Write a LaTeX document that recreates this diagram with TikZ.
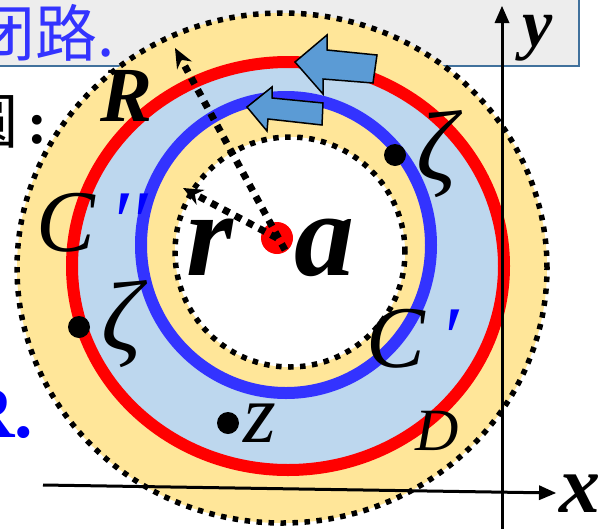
\documentclass[tikz,border=0pt]{standalone}
\usepackage{fontspec}
\setmainfont{Liberation Serif}
\newfontfamily\cjk{Noto Sans CJK SC}
\usetikzlibrary{arrows.meta}
\definecolor{ringyellow}{HTML}{FFE699}
\definecolor{ringblue}{HTML}{BDD7EE}
\definecolor{cred}{HTML}{FF0000}
\definecolor{cblue}{HTML}{3333FF}
\definecolor{arrowblue}{HTML}{5B9BD5}
\definecolor{boxgrey}{HTML}{EDEDED}
\definecolor{boxedge}{HTML}{41719C}
\definecolor{textblue}{HTML}{3333FF}
\definecolor{pureblue}{HTML}{0000FF}
\begin{document}
\begin{tikzpicture}[x=1pt,y=-1pt,
  dotring/.style={line width=5.5pt, dash pattern=on 5.5pt off 6.5pt},
  dotray/.style={line width=7pt, dash pattern=on 7pt off 6.5pt, -{Stealth[length=20pt,width=17pt,line width=0pt]}},
  blockarrow/.style={fill=arrowblue, draw=black, line width=1.5pt, line join=miter},
  pt/.style={circle, fill=black, inner sep=0pt, minimum size=22pt},
  lbl/.style={inner sep=0pt, anchor=base west},
  axisline/.style={line width=3pt, -{Triangle[length=17pt,width=15pt,line width=0pt]}}
]
\useasboundingbox (0,0) rectangle (605,528);
\clip (0,0) rectangle (605,528);

% header box
\draw[draw=boxedge, fill=boxgrey, line width=2pt] (-20,-20) rectangle (579,66);
\node[lbl, text=textblue, font=\cjk\fontsize{62}{66}\selectfont] (t1) at (-27,56) {闭路.};
\node[lbl, font=\fontsize{60}{64}\selectfont] (t2) at (-42,143) {{\cjk 圆}\hspace{9pt}\textbf{:}};
\node[lbl, text=pureblue, font=\bfseries\fontsize{74}{80}\selectfont] (t3) at (-39,437) {R.};

% rings
\fill[ringyellow] (282,268) ellipse [x radius=265pt, y radius=255pt];
\fill[ringblue] (288,266) ellipse [x radius=216pt, y radius=204pt];
\fill[ringyellow] (286,245) ellipse [x radius=145pt, y radius=148pt];
\fill[white] (290,252) circle [radius=115pt];
\draw[cred, line width=12pt] (288,266) ellipse [x radius=216pt, y radius=204pt];
\draw[cblue, line width=12pt] (286,245) ellipse [x radius=145pt, y radius=148pt];
\draw[dotring] (282,268) ellipse [x radius=265pt, y radius=255pt];
\draw[dotring] (290,252) circle [radius=115pt];

% axes
\coordinate (xs) at (43,485);
\coordinate (xe) at (556,493);
\coordinate (ys) at (502,535);
\coordinate (ye) at (502,6);
\draw[axisline] (xs) -- (xe);
\draw[axisline] (ys) -- (ye);
\node[lbl, anchor=base, font=\bfseries\itshape\fontsize{82}{90}\selectfont] (xl) at (580,512) {x};
\node[lbl, anchor=base, font=\bfseries\itshape\fontsize{68}{72}\selectfont] (yl) at (538,46) {y};

% block arrows
\draw[blockarrow] (295,62) -- (327,35) -- (327,50) -- (377,55) -- (373,83) -- (323,79) -- (323,94) -- cycle;
\draw[blockarrow] (247,107) -- (272,87) -- (272,98) -- (323,103) -- (322,125) -- (268,119) -- (267,131) -- cycle;

% centre and radii
\node[circle, fill=cred, inner sep=0pt, minimum size=32pt] (ctr) at (277,238) {};
\coordinate (Rs) at (285,250);
\coordinate (Rtip) at (175,48);
\coordinate (rtip) at (183,188);
\draw[dotray] (Rs) -- (Rtip);
\draw[dotray] (ctr.center) -- (rtip);

% labels
\node[lbl, font=\bfseries\itshape\fontsize{78}{80}\selectfont] (Rl) at (100,121) {R};
\node[lbl, font=\bfseries\itshape\fontsize{120}{124}\selectfont] (rl) at (186,275) {r};
\node[lbl, font=\bfseries\itshape\fontsize{120}{124}\selectfont] (al) at (294,275) {a};
\node[lbl, font=\itshape\fontsize{88}{94}\selectfont] (C2) at (36,251) {C\textcolor{pureblue}{\,′′}};
\node[lbl, font=\itshape\fontsize{88}{92}\selectfont] (C1) at (366,367) {C\textcolor{pureblue}{\,′}};
\node[lbl, font=\itshape\fontsize{60}{64}\selectfont] (Dl) at (415,450) {D};

\node[pt] (p1) at (395,155) {};
\node[lbl, anchor=base, font=\itshape\fontsize{100}{104}\selectfont] (z1) at (437,180) {ζ};
\node[pt] (p2) at (79,327) {};
\node[lbl, anchor=base, font=\itshape\fontsize{100}{104}\selectfont] (z2) at (122,350) {ζ};
\node[pt] (p3) at (228,423) {};
\node[lbl, font=\itshape\fontsize{84}{88}\selectfont] (zl) at (243,442) {z};
\end{tikzpicture}
\end{document}
